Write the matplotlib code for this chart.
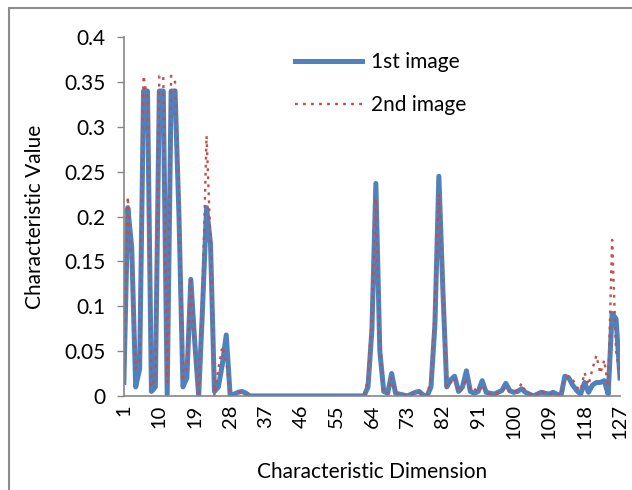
import matplotlib
matplotlib.use("Agg")
import matplotlib.pyplot as plt
from matplotlib.patches import Rectangle

# characteristic dimensions 1..127
dims = list(range(1, 128))

# values (index 1 first)
first = [0.015, 0.21, 0.165, 0.01, 0.03, 0.34, 0.34, 0.005, 0.01, 0.34,
         0.34, 0.002, 0.34, 0.34, 0.2, 0.01, 0.02, 0.13, 0.06, 0.0,
         0.1, 0.21, 0.17, 0.005, 0.01, 0.035, 0.068, 0.0, 0.002, 0.004,
         0.005, 0.003] + [0.0] * 30 + \
        [0.01, 0.074, 0.237, 0.05, 0.005, 0.003, 0.025, 0.003, 0.002, 0.001,
         0.0, 0.002, 0.004, 0.005, 0.001, 0.0, 0.01, 0.08, 0.245, 0.12,
         0.01, 0.018, 0.022, 0.005, 0.01, 0.028, 0.005, 0.003, 0.005, 0.017,
         0.004, 0.003, 0.002, 0.004, 0.006, 0.014, 0.006, 0.004, 0.005, 0.008,
         0.004, 0.002, 0.0, 0.002, 0.004, 0.003, 0.002, 0.004, 0.002, 0.0,
         0.022, 0.02, 0.012, 0.006, 0.002, 0.015, 0.004, 0.012, 0.015, 0.015,
         0.017, 0.002, 0.092, 0.086, 0.02]

second = [0.02, 0.222, 0.14, 0.03, 0.04, 0.357, 0.33, 0.01, 0.02, 0.357,
          0.357, 0.015, 0.357, 0.35, 0.22, 0.02, 0.03, 0.128, 0.05, 0.0,
          0.12, 0.29, 0.17, 0.0, 0.03, 0.055, 0.04, 0.0, 0.0, 0.004,
          0.005, 0.002] + [0.0] * 30 + \
         [0.02, 0.09, 0.22, 0.06, 0.004, 0.003, 0.02, 0.004, 0.002, 0.001,
          0.0, 0.002, 0.003, 0.004, 0.001, 0.0, 0.02, 0.1, 0.225, 0.13,
          0.01, 0.015, 0.02, 0.004, 0.008, 0.02, 0.006, 0.008, 0.004, 0.012,
          0.004, 0.002, 0.003, 0.003, 0.005, 0.01, 0.004, 0.004, 0.006, 0.014,
          0.005, 0.002, 0.0, 0.002, 0.006, 0.003, 0.002, 0.003, 0.002, 0.0,
          0.02, 0.022, 0.018, 0.01, 0.006, 0.026, 0.012, 0.03, 0.045, 0.025,
          0.04, 0.01, 0.174, 0.05, 0.02]

xticks = list(range(1, 128, 9))
yticks = [0, 0.05, 0.1, 0.15, 0.2, 0.25, 0.3, 0.35, 0.4]

plt.rcParams['font.family'] = ['Lato', 'DejaVu Sans']

fig = plt.figure(figsize=(6.32, 4.9), dpi=100)
ax = fig.add_axes([0.196, 0.192, 0.785, 0.732])

ax.plot(dims, first, color='#4F81BD', lw=3.6, label='1st image')
ax.plot(dims, second, color='#C0504D', lw=1.7, linestyle=(0, (1.2, 2.2)), label='2nd image')

ax.set_xlim(1, 127)
ax.set_ylim(0, 0.4)
ax.set_xticks(xticks)
ax.set_xticklabels([str(t) for t in xticks], rotation=90, fontsize=14.5)
ax.set_yticks(yticks)
ax.set_yticklabels(['%g' % t for t in yticks], fontsize=15)
ax.tick_params(axis='x', length=0, pad=6)
ax.tick_params(axis='y', length=5, width=1, color='#868686', pad=8)

for s in ['top', 'right']:
    ax.spines[s].set_visible(False)
for s in ['left', 'bottom']:
    ax.spines[s].set_color('#868686')
    ax.spines[s].set_linewidth(1.2)

ax.set_xlabel('Characteristic Dimension', fontsize=15, labelpad=16)
ax.set_ylabel('Characteristic Value', fontsize=15, labelpad=14)

ax.legend(loc='upper left', bbox_to_anchor=(0.308, 1.01), frameon=False,
          fontsize=15, handlelength=3.2, handletextpad=0.45, labelspacing=1.1)

# outer chart border
fig.patches.append(Rectangle((9 / 632, -0.1), 1.2, 1 - 8 / 490 + 0.1,
                             transform=fig.transFigure, fill=False,
                             edgecolor='#8C8C8C', lw=1.5))

fig.savefig('out.png', dpi=100)
